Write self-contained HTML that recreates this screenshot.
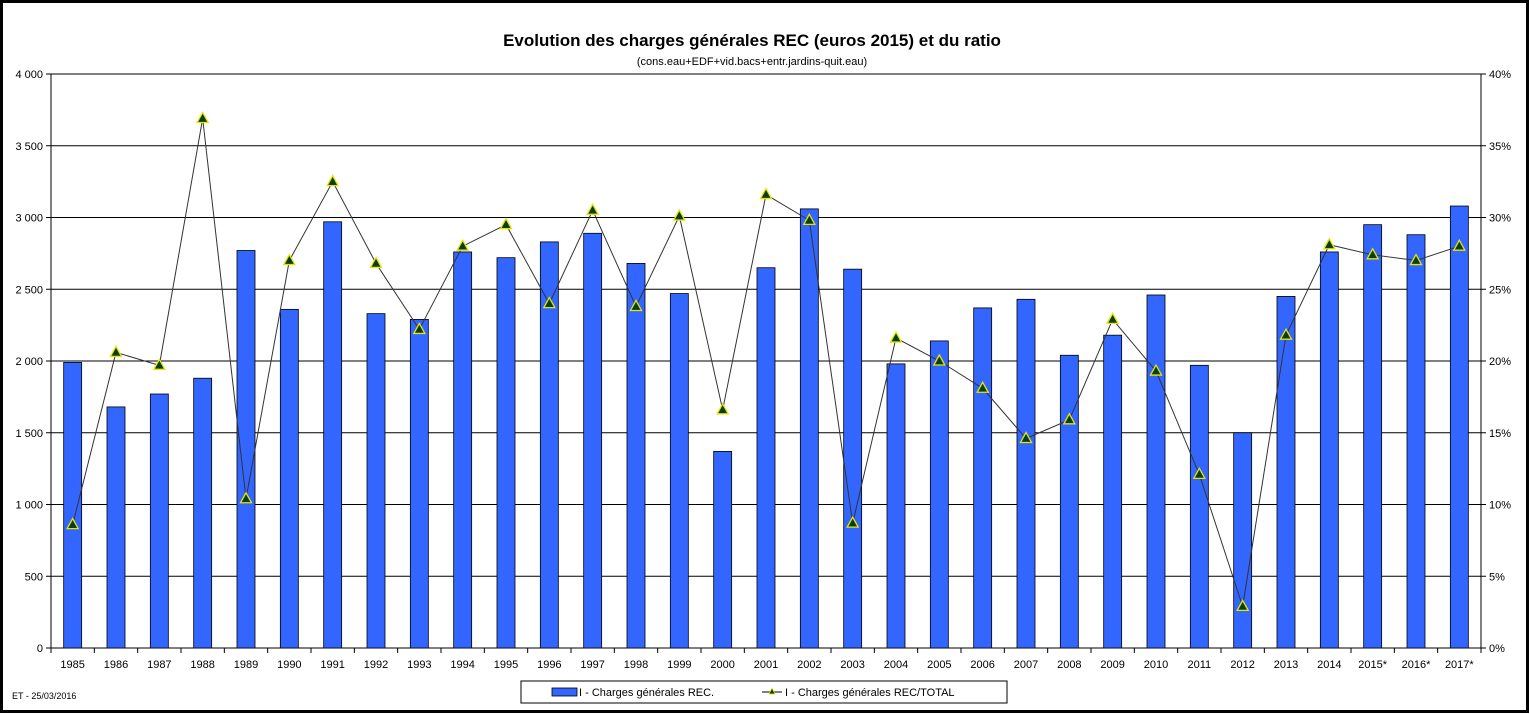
<!DOCTYPE html>
<html><head><meta charset="utf-8"><style>
html,body{margin:0;padding:0;background:#fff}
svg{display:block;font-family:"Liberation Sans",Arial,sans-serif}
</style></head><body>
<svg id="c" width="1530" height="714" xmlns="http://www.w3.org/2000/svg"></svg>
<script>
const s=document.getElementById('c');
let h='';
h+='<rect x="1.5" y="1.5" width="1526" height="710" fill="#fff" stroke="#000" stroke-width="3"/>';
h+='<text x="752" y="46" font-size="17" font-weight="bold" text-anchor="middle">Evolution des charges générales REC (euros 2015) et du ratio</text>';
h+='<text x="752" y="65" font-size="11" text-anchor="middle">(cons.eau+EDF+vid.bacs+entr.jardins-quit.eau)</text>';
const L=51,R=1481,T=74,B=648,H=B-T;
for(let i=0;i<=8;i++){const y=B-H*i/8;
 h+=`<line x1="${L}" x2="${R}" y1="${y}" y2="${y}" stroke="#000" stroke-width="1"/>`;
 h+=`<line x1="${L-5}" x2="${L}" y1="${y}" y2="${y}" stroke="#000"/><line x1="${R}" x2="${R+5}" y1="${y}" y2="${y}" stroke="#000"/>`;
 const v=i*500;const lab=v>=1000?Math.floor(v/1000)+' '+String(v%1000).padStart(3,'0'):String(v);
 h+=`<text x="${L-8}" y="${y+4}" font-size="11" text-anchor="end">${lab}</text>`;
 h+=`<text x="${R+8}" y="${y+4}" font-size="11">${i*5}%</text>`;}
h+=`<line x1="${L}" x2="${L}" y1="${T}" y2="${B}" stroke="#000"/><line x1="${R}" x2="${R}" y1="${T}" y2="${B}" stroke="#000"/>`;
const yrs=[];for(let y=1985;y<=2014;y++)yrs.push(String(y));yrs.push('2015*','2016*','2017*');
const bars=[1990,1680,1770,1880,2770,2360,2970,2330,2290,2760,2720,2830,2890,2680,2470,1370,2650,3060,2640,1980,2140,2370,2430,2040,2180,2460,1970,1500,2450,2760,2950,2880,3080];
const rat=[8.6,20.6,19.7,36.9,10.4,27.0,32.5,26.8,22.2,28.0,29.5,24.0,30.5,23.8,30.1,16.6,31.6,29.8,8.7,21.6,20.0,18.1,14.6,15.9,22.9,19.3,12.1,2.9,21.8,28.1,27.4,27.0,28.0];
const n=33,cw=(R-L)/n;
for(let i=0;i<=n;i++){const x=L+cw*i;h+=`<line x1="${x}" x2="${x}" y1="${B}" y2="${B+5}" stroke="#000"/>`;}
let pts=[];
for(let i=0;i<n;i++){const cx=L+cw*(i+.5);const bh=bars[i]/4000*H;
 h+=`<rect x="${cx-9}" y="${B-bh}" width="18" height="${bh}" fill="#3366ff" stroke="#000" stroke-width="0.8"/>`;
 h+=`<text x="${cx}" y="${B+20}" font-size="11" text-anchor="middle">${yrs[i]}</text>`;
 pts.push([cx,B-rat[i]/40*H]);}
h+=`<polyline points="${pts.map(p=>p.join(',')).join(' ')}" fill="none" stroke="#333" stroke-width="1"/>`;
for(const [x,y] of pts)h+=`<polygon points="${x},${y-6} ${x-5.5},${y+4} ${x+5.5},${y+4}" fill="#0b3d1a" stroke="#e6e600" stroke-width="1.3"/>`;
h+='<rect x="521" y="681" width="486" height="22" fill="#fff" stroke="#000"/>';
h+='<rect x="552" y="688" width="25" height="8" fill="#3366ff" stroke="#000" stroke-width="0.8"/>';
h+='<text x="579" y="696" font-size="11">I - Charges générales REC.</text>';
h+='<line x1="762" x2="782" y1="692" y2="692" stroke="#000"/><polygon points="772,688 769,694 775,694" fill="#0b3d1a" stroke="#e6e600" stroke-width="0.8"/>';
h+='<text x="785" y="696" font-size="11">I - Charges générales REC/TOTAL</text>';
h+='<text x="12" y="699" font-size="9">ET - 25/03/2016</text>';
s.innerHTML=h;
</script>
</body></html>
